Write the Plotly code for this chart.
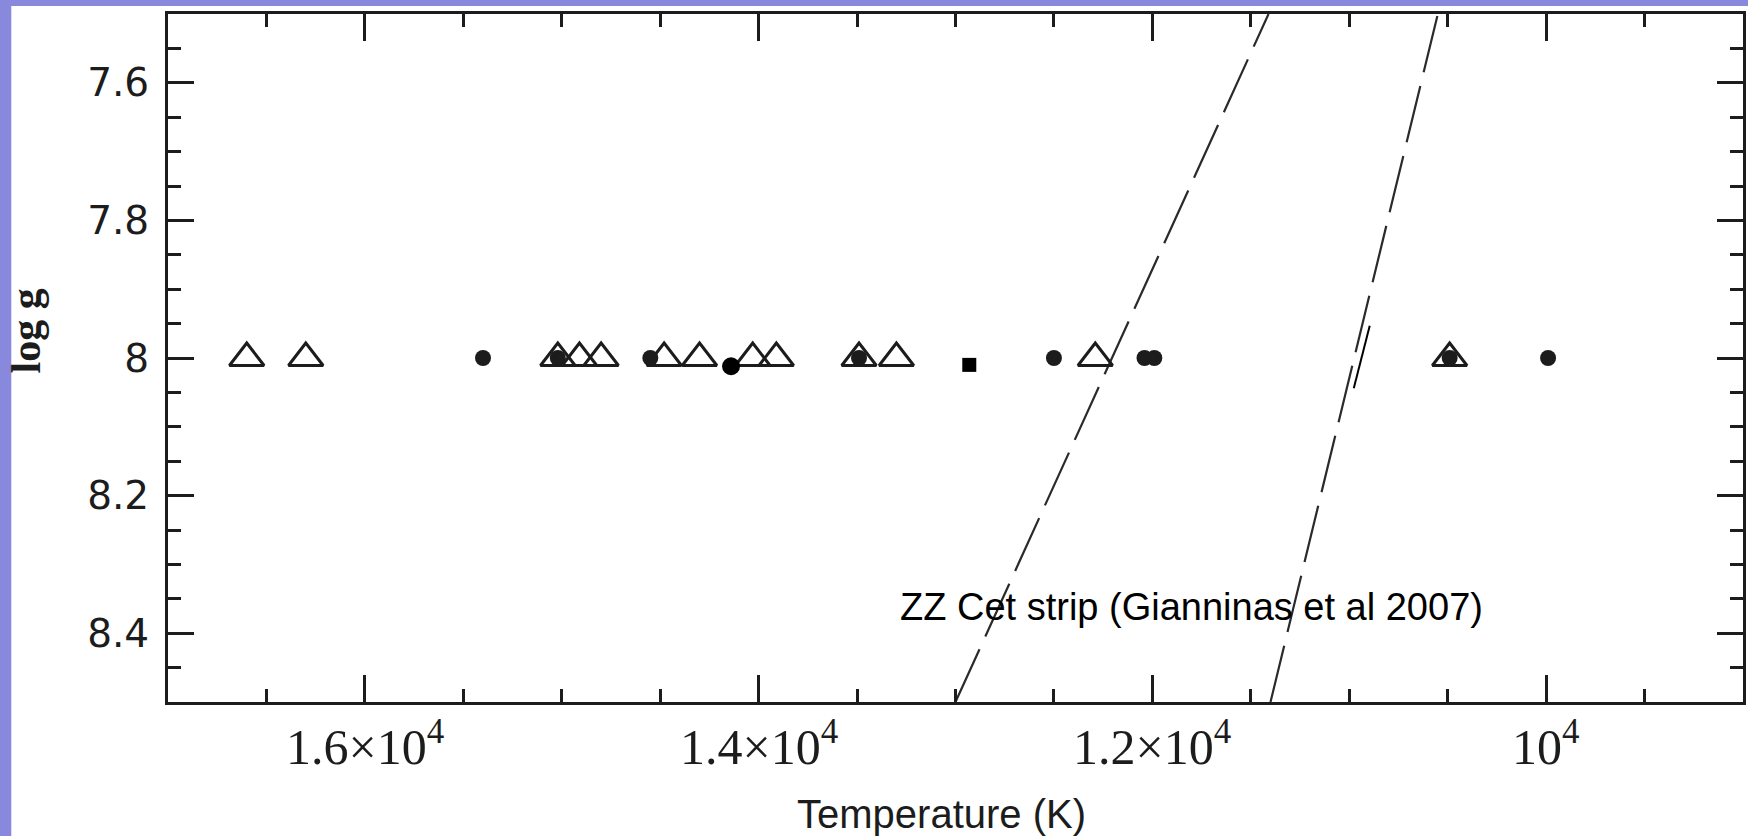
import plotly.graph_objects as go

# Effective temperature (K) and surface gravity of the observed white dwarfs
tri_teff = [16600, 16300, 15020, 14910, 14800, 14480, 14300, 14030, 13910, 13490, 13300, 12290, 10490]
tri_logg = [8.0, 8.0, 8.0, 8.0, 8.0, 8.0, 8.0, 8.0, 8.0, 8.0, 8.0, 8.0, 8.0]

dot_teff = [15400, 15020, 14550, 13490, 12500, 12040, 11990, 10490, 9990]
dot_logg = [8.0, 8.0, 8.0, 8.0, 8.0, 8.0, 8.0, 8.0, 8.0]

new_dot_teff = [14140]
new_dot_logg = [8.012]

square_teff = [12930]
square_logg = [8.01]

# ZZ Ceti instability strip edges
blue_edge_teff = [13000, 11410]
blue_edge_logg = [8.5, 7.5]
red_edge_teff = [11400, 10550]
red_edge_logg = [8.5, 7.5]
edge_mark_teff = [10896, 10977]
edge_mark_logg = [7.953, 8.044]

x_tickvals = [16000, 14000, 12000, 10000]
x_ticktext = ["1.6×10<sup>4</sup>", "1.4×10<sup>4</sup>", "1.2×10<sup>4</sup>", "10<sup>4</sup>"]

INK = "#1c1c1c"
PURPLE = "#8888dc"

fig = go.Figure()

fig.add_trace(go.Scatter(
    x=blue_edge_teff, y=blue_edge_logg, mode="lines",
    line=dict(color="#2a2a2a", width=2.2, dash="58px,14px"), hoverinfo="skip"))
fig.add_trace(go.Scatter(
    x=red_edge_teff, y=red_edge_logg, mode="lines",
    line=dict(color="#2a2a2a", width=2.2, dash="58px,14px"), hoverinfo="skip"))
fig.add_trace(go.Scatter(
    x=edge_mark_teff, y=edge_mark_logg, mode="lines",
    line=dict(color="black", width=2), hoverinfo="skip"))

fig.add_trace(go.Scatter(
    x=tri_teff, y=tri_logg, mode="markers",
    marker=dict(symbol="triangle-up-open", size=30, color=INK, line=dict(width=3, color=INK))))
fig.add_trace(go.Scatter(
    x=dot_teff, y=dot_logg, mode="markers",
    marker=dict(symbol="circle", size=16, color=INK, line=dict(width=0))))
fig.add_trace(go.Scatter(
    x=new_dot_teff, y=new_dot_logg, mode="markers",
    marker=dict(symbol="circle", size=18, color="black", line=dict(width=0))))
fig.add_trace(go.Scatter(
    x=square_teff, y=square_logg, mode="markers",
    marker=dict(symbol="square", size=14, color="black", line=dict(width=0))))

fig.update_xaxes(
    range=[17000, 9000],
    tickmode="array", tickvals=x_tickvals, showticklabels=False,
    ticks="inside", ticklen=27, tickwidth=3, tickcolor=INK,
    showline=True, linewidth=3, linecolor=INK, mirror="allticks",
    showgrid=False, zeroline=False,
    minor=dict(tickmode="linear", tick0=9000, dtick=500, ticks="inside",
               ticklen=13, tickwidth=3, tickcolor=INK, showgrid=False),
)
fig.update_yaxes(
    range=[8.5, 7.5],
    tickmode="linear", tick0=7.6, dtick=0.2,
    ticks="inside", ticklen=26, tickwidth=3, tickcolor=INK,
    showline=True, linewidth=3, linecolor=INK, mirror="allticks",
    showgrid=False, zeroline=False,
    minor=dict(tickmode="linear", tick0=7.5, dtick=0.05, ticks="inside",
               ticklen=13, tickwidth=3, tickcolor=INK, showgrid=False),
    tickfont=dict(family="DejaVu Sans", size=39, color=INK),
    ticklabelstandoff=8,
)

# Temperature tick labels in scientific notation, placed under their ticks
tick_labels = [
    dict(text=t, xref="x", yref="paper", x=v, y=-0.0604,
         xanchor="center", yanchor="middle", showarrow=False,
         font=dict(family="Liberation Serif", size=50, color=INK))
    for v, t in zip(x_tickvals, x_ticktext)
]

fig.update_layout(
    width=1748, height=836,
    margin=dict(l=168, r=2, t=14, b=134),
    paper_bgcolor=PURPLE,
    plot_bgcolor="white",
    showlegend=False,
    shapes=[dict(type="rect", xref="paper", yref="paper",
                 x0=-0.0995, x1=1.02, y0=-0.2, y1=1.0116,
                 fillcolor="white", line=dict(width=0), layer="below")],
    annotations=tick_labels + [
        dict(text="Temperature (K)", xref="paper", yref="paper",
             x=0.491, y=-0.1628, xanchor="center", yanchor="middle",
             showarrow=False, font=dict(family="Liberation Sans", size=40, color=INK)),
        dict(text="<b>log g</b>", xref="paper", yref="paper",
             x=-0.09, y=0.539, xanchor="center", yanchor="middle", textangle=-90,
             showarrow=False, font=dict(family="Liberation Serif", size=42, color=INK)),
        dict(text="ZZ Cet strip (Gianninas et al 2007)", xref="x", yref="y",
             x=13290, y=8.362, xanchor="left", yanchor="middle",
             showarrow=False, font=dict(family="Liberation Sans", size=38, color="black")),
    ],
)

fig.write_html("out.html")
